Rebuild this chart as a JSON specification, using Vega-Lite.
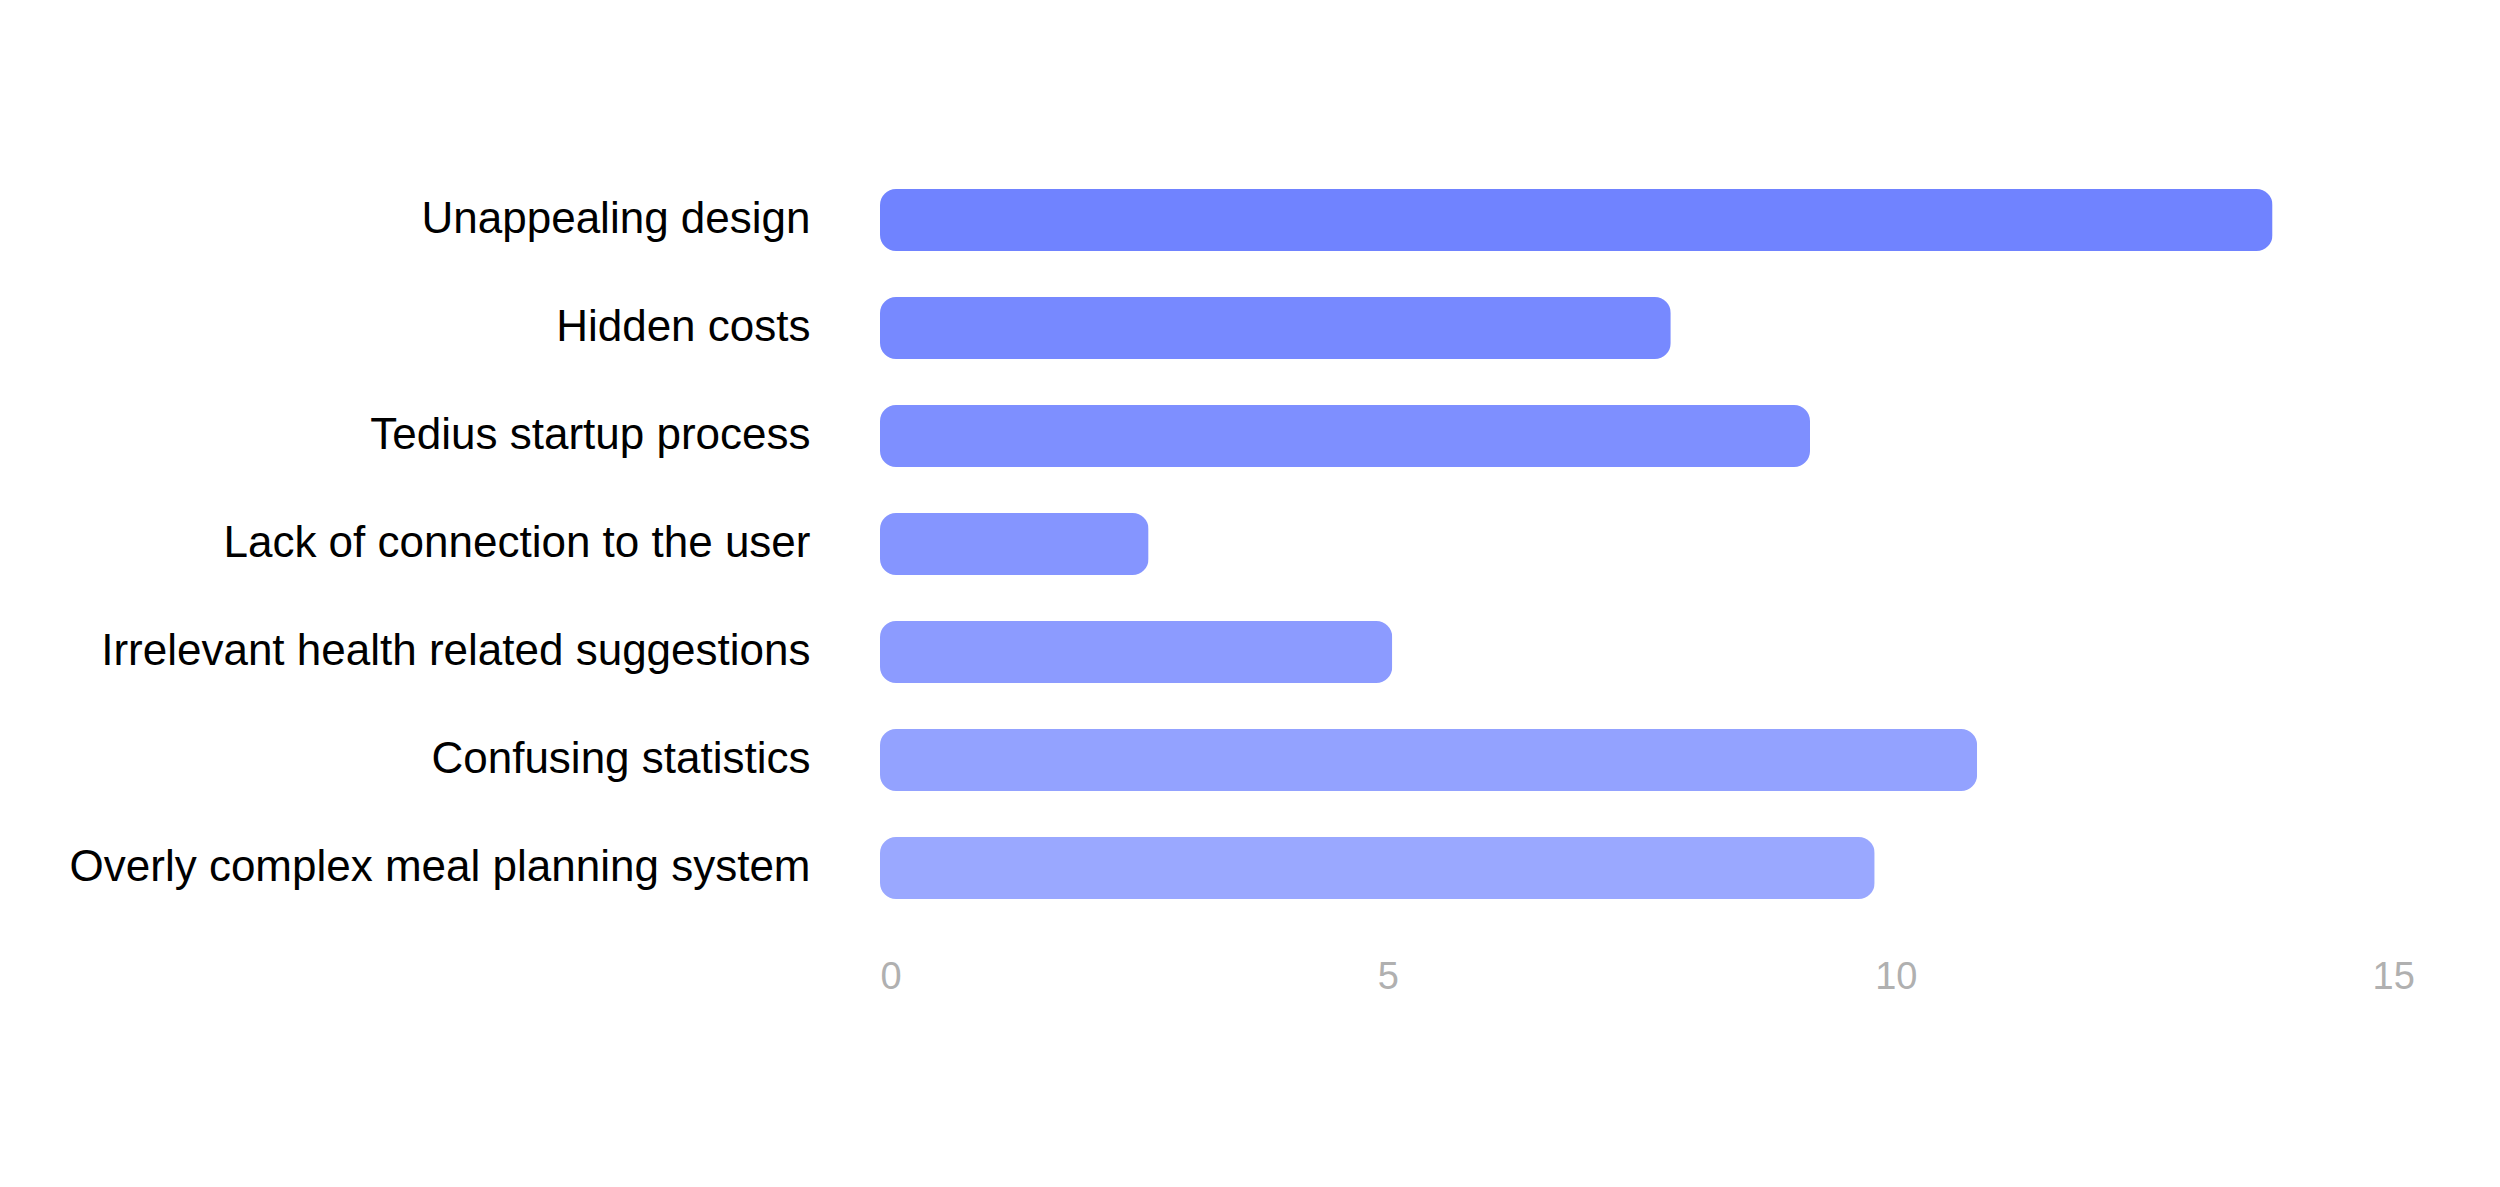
{
  "$schema": "https://vega.github.io/schema/vega-lite/v6.json",
  "autosize": "none",
  "width": 1492,
  "height": 756,
  "padding": {"left": 880, "top": 166, "right": 128, "bottom": 265},
  "background": "white",
  "config": {
    "view": {"stroke": null},
    "font": "Liberation Sans"
  },
  "data": {
    "values": [
      {"reason": "Unappealing design", "count": 14},
      {"reason": "Hidden costs", "count": 7.95},
      {"reason": "Tedius startup process", "count": 9.35},
      {"reason": "Lack of connection to the user", "count": 2.7},
      {"reason": "Irrelevant health related suggestions", "count": 5.15},
      {"reason": "Confusing statistics", "count": 11.03},
      {"reason": "Overly complex meal planning system", "count": 10}
    ]
  },
  "mark": {"type": "bar", "cornerRadius": 16},
  "encoding": {
    "y": {
      "field": "reason",
      "type": "nominal",
      "sort": null,
      "title": null,
      "scale": {"paddingInner": 0.426, "paddingOuter": 0.213},
      "axis": {
        "ticks": false,
        "domain": false,
        "grid": false,
        "labelPadding": 70,
        "labelFontSize": 44,
        "labelColor": "#000000",
        "labelLimit": 1000
      }
    },
    "x": {
      "field": "count",
      "type": "quantitative",
      "title": null,
      "scale": {"domain": [0, 15], "nice": false},
      "axis": {
        "values": [0, 5, 10, 15],
        "ticks": false,
        "domain": false,
        "grid": false,
        "labelAlign": "left",
        "labelBaseline": "top",
        "labelPadding": 36,
        "labelFontSize": 38,
        "labelColor": "#b0b0b0",
        "labelFlush": false
      }
    },
    "color": {
      "field": "reason",
      "type": "nominal",
      "legend": null,
      "scale": {
        "domain": [
          "Unappealing design",
          "Hidden costs",
          "Tedius startup process",
          "Lack of connection to the user",
          "Irrelevant health related suggestions",
          "Confusing statistics",
          "Overly complex meal planning system"
        ],
        "range": ["#7083ff", "#7789ff", "#7e8fff", "#8595ff", "#8c9bff", "#93a2ff", "#9aa8ff"]
      }
    }
  }
}
